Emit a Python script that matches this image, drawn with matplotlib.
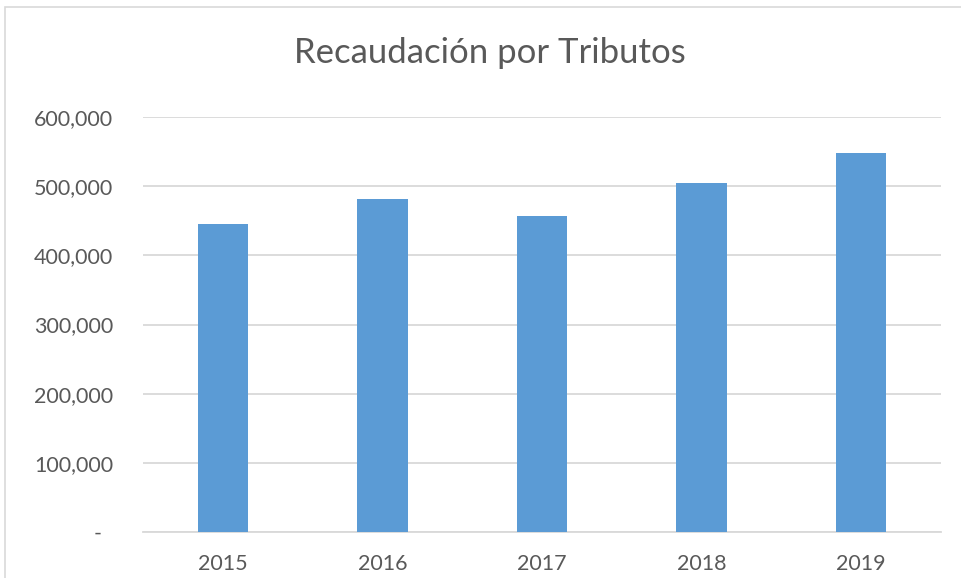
import matplotlib.pyplot as plt
from matplotlib.patches import Rectangle
from matplotlib.ticker import FuncFormatter

years = ["2015", "2016", "2017", "2018", "2019"]
recaudacion = [445300, 481400, 456900, 504600, 548000]
yticks = [0, 100000, 200000, 300000, 400000, 500000, 600000]

plt.rcParams['font.family'] = ['Lato', 'DejaVu Sans']

fig = plt.figure(figsize=(9.62, 5.78), dpi=100)
# chart frame (Excel style)
fig.patches.append(Rectangle((5 / 962, -0.1), 1.2, 1 - 7 / 578 + 0.1,
                             transform=fig.transFigure, fill=False,
                             edgecolor='#d9d9d9', linewidth=1.2))

ax = fig.add_axes([143 / 962, 1 - 532 / 578, (941 - 143) / 962, (532 - 117) / 578])
ax.bar(years, recaudacion, width=0.315, color='#5b9bd5', zorder=3)

ax.set_ylim(0, 600000)
ax.set_xlim(-0.5, 4.5)
ax.set_yticks(yticks)
ax.yaxis.set_major_formatter(FuncFormatter(lambda v, p: '-  ' if v == 0 else f"{v:,.0f}"))
ax.grid(axis='y', color='#d9d9d9', linewidth=1.3, zorder=0)
for s in ['top', 'right', 'left']:
    ax.spines[s].set_visible(False)
ax.spines['bottom'].set_color('#d9d9d9')
ax.spines['bottom'].set_linewidth(1.3)
ax.tick_params(axis='both', length=0, labelsize=15.5, colors='#595959')
ax.tick_params(axis='y', pad=21.5)
ax.tick_params(axis='x', pad=15.5)

fig.text(490 / 962, 1 - 53 / 578, "Recaudación por Tributos", ha='center', va='center',
         fontsize=25, color='#595959')

fig.savefig("out.png", dpi=100)
